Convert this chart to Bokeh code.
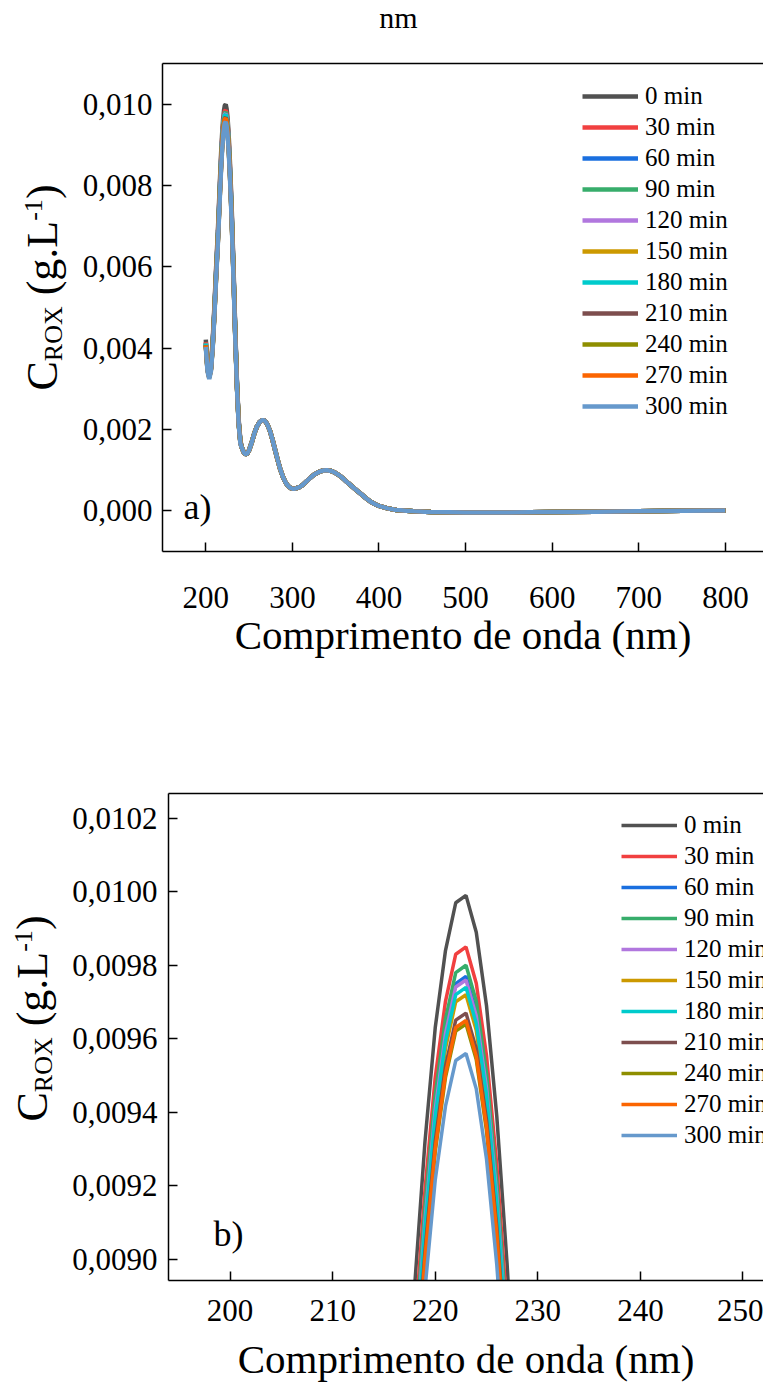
from math import pi
from bokeh.plotting import figure
from bokeh.models import (ColumnDataSource, Range1d, FixedTicker, LinearAxis,
                          Label, Legend, LegendItem)
from bokeh.layouts import column, row
from bokeh.embed import file_html
from bokeh.resources import INLINE

FONT = "Liberation Serif"

# ---------------- data (concentration, stored in units of 1e-5 g/L) ----------------
SERIES = ["0 min", "30 min", "60 min", "90 min", "120 min", "150 min",
          "180 min", "210 min", "240 min", "270 min", "300 min"]
COLORS = ["#515151", "#F14040", "#1A6FDF", "#37AD6B", "#B177DE", "#CC9900",
          "#00CBCC", "#7D4E4E", "#8E8E00", "#FB6501", "#6699CC"]

WL_HEAD = [200, 202, 204, 206, 208, 210, 212, 214, 216, 217, 218, 219, 220, 221,
           222, 223, 224, 225, 226, 227, 228, 229, 230, 232, 234, 236, 238, 240]
WL_TAIL = [242, 244, 246, 248, 250, 253, 256, 259, 262, 265, 268, 271, 274, 277, 280,
           283, 286, 289, 292, 295, 298, 301, 304, 308, 312, 316, 320, 325, 330, 335,
           340, 345, 350, 355, 360, 365, 370, 375, 380, 385, 390, 395, 400, 410, 420,
           440, 460, 500, 550, 600, 650, 700, 750, 800]
# common tail (all series coincide beyond 240 nm)
TAIL = [153, 143, 139, 141, 149, 168, 190, 207, 218, 223, 222, 213, 197, 175, 150,
        125, 102, 84, 70, 61, 56, 54, 55, 58, 64, 72, 80, 89, 95, 99,
        100, 98, 93, 86, 77, 67, 58, 49, 40, 31, 23, 17, 12, 6, 2,
        -1, -3, -4, -4, -3, -2, -1, 0, 1]

S0 = [421, 358, 339, 360, 420, 505, 602, 690, 795, 847, 893, 932, 963, 984, 997, 999, 989, 969, 939, 899, 851, 796, 737, 598, 447, 315, 222, 172]
S30 = [415.1, 353.0, 334.3, 355.0, 414.1, 497.9, 593.6, 680.3, 783.9, 835.1, 880.5, 918.9, 949.5, 970.2, 983.0, 985.0, 975.1, 955.4, 925.8, 886.4, 839.1, 784.8, 726.7, 589.6, 440.7, 310.6, 218.9, 169.6]
S60 = [411.7, 350.1, 331.5, 352.1, 410.8, 493.9, 588.7, 674.8, 777.5, 828.4, 873.3, 911.5, 941.8, 962.3, 975.0, 977.0, 967.2, 947.7, 918.3, 879.2, 832.3, 778.5, 720.8, 584.8, 437.2, 308.1, 217.1, 168.2]
S90 = [413.0, 351.2, 332.6, 353.2, 412.0, 495.4, 590.6, 676.9, 779.9, 830.9, 876.0, 914.3, 944.7, 965.3, 978.0, 980.0, 970.2, 950.6, 921.1, 881.9, 834.8, 780.9, 723.0, 586.6, 438.5, 309.0, 217.8, 168.7]
S120 = [411.3, 349.8, 331.2, 351.7, 410.3, 493.4, 588.1, 674.1, 776.7, 827.5, 872.4, 910.5, 940.8, 961.4, 974.1, 976.0, 966.2, 946.7, 917.4, 878.3, 831.4, 777.7, 720.0, 584.2, 436.7, 307.8, 216.9, 168.0]
S150 = [409.6, 348.3, 329.8, 350.3, 408.6, 491.3, 585.7, 671.3, 773.5, 824.1, 868.9, 906.8, 937.0, 957.4, 970.1, 972.0, 962.3, 942.8, 913.6, 874.7, 828.0, 774.5, 717.1, 581.8, 434.9, 306.5, 216.0, 167.4]
S180 = [410.5, 349.0, 330.5, 351.0, 409.5, 492.4, 586.9, 672.7, 775.1, 825.8, 870.6, 908.7, 938.9, 959.4, 972.0, 974.0, 964.2, 944.7, 915.5, 876.5, 829.7, 776.1, 718.6, 583.0, 435.8, 307.1, 216.4, 167.7]
S210 = [407.5, 346.5, 328.1, 348.5, 406.5, 488.8, 582.7, 667.9, 769.5, 819.9, 864.4, 902.2, 932.2, 952.5, 965.1, 967.0, 957.3, 938.0, 908.9, 870.2, 823.7, 770.5, 713.4, 578.8, 432.7, 304.9, 214.9, 166.5]
S240 = [406.3, 345.5, 327.1, 347.4, 405.3, 487.3, 580.9, 665.8, 767.1, 817.3, 861.7, 899.3, 929.3, 949.5, 962.1, 964.0, 954.4, 935.0, 906.1, 867.5, 821.2, 768.1, 711.2, 577.0, 431.3, 304.0, 214.2, 166.0]
S270 = [406.7, 345.8, 327.5, 347.8, 405.7, 487.8, 581.5, 666.5, 768.0, 818.2, 862.6, 900.3, 930.2, 950.5, 963.1, 965.0, 955.3, 936.0, 907.0, 868.4, 822.0, 768.9, 711.9, 577.7, 431.8, 304.3, 214.5, 166.2]
S300 = [402.9, 342.6, 324.4, 344.5, 401.9, 483.3, 576.1, 660.3, 760.8, 810.5, 854.6, 891.9, 921.6, 941.7, 954.1, 956.0, 946.4, 927.3, 898.6, 860.3, 814.4, 761.7, 705.3, 572.3, 427.8, 301.4, 212.5, 164.6]
HEADS = [S0, S30, S60, S90, S120, S150, S180, S210, S240, S270, S300]

X_TICKS_A = [200, 300, 400, 500, 600, 700, 800]
X_LABELS_A = ["200", "300", "400", "500", "600", "700", "800"]
Y_TICKS_A = [0.0, 0.002, 0.004, 0.006, 0.008, 0.010]
Y_LABELS_A = ["0,000", "0,002", "0,004", "0,006", "0,008", "0,010"]
X_TICKS_B = [200, 210, 220, 230, 240, 250]
X_LABELS_B = ["200", "210", "220", "230", "240", "250"]
Y_TICKS_B = [0.0090, 0.0092, 0.0094, 0.0096, 0.0098, 0.0100, 0.0102]
Y_LABELS_B = ["0,0090", "0,0092", "0,0094", "0,0096", "0,0098", "0,0100", "0,0102"]

X_TITLE = "Comprimento de onda (nm)"
UNIT = 1e-5  # stored values are in 1e-5 g/L
MID = 0.3375  # em-box middle above the baseline (Liberation Serif)


def style_axis(ax, standoff):
    ax.axis_line_color = "black"
    ax.axis_line_width = 1.5
    ax.major_tick_line_color = "black"
    ax.major_tick_line_width = 1.5
    ax.major_tick_in = 9
    ax.major_tick_out = 0
    ax.minor_tick_line_color = None
    ax.major_label_text_font = FONT
    ax.major_label_text_font_size = "31px"
    ax.major_label_text_color = "black"
    ax.major_label_standoff = standoff


def txt(p, x, y, text, size, angle=0.0, align="left"):
    p.add_layout(Label(x=x, y=y, x_units="screen", y_units="screen", text=text,
                       text_font=FONT, text_font_size=f"{size}px", text_color="black",
                       angle=angle, text_align=align, text_baseline="middle"))


def text_fig(w, h):
    f = figure(width=w, height=h, x_range=Range1d(0, 1), y_range=Range1d(0, 1),
               x_axis_type=None, y_axis_type=None, output_backend="svg",
               toolbar_location=None, min_border_left=0, min_border_right=0,
               min_border_top=0, min_border_bottom=0)
    f.outline_line_color = None
    f.background_fill_color = "white"
    f.border_fill_color = "white"
    return f


def ylabel_fig(h, bx, by):
    # rotated "C_ROX (g.L^-1)" built from pieces; bx = main baseline x, by = start (bottom)
    f = text_fig(68, h)
    pieces = [("C", 44, 0, 0.0), ("ROX", 26, 5, 29.3), ("(g.L", 44, 0, 95.2),
              ("-1", 26, -15, 169.7), (")", 44, 0, 191.4)]
    for text, size, shift, along in pieces:
        txt(f, bx + shift - MID * size, by + along, text, size, pi / 2)
    return f


def make_panel(height, xr, yr, mb, xt, xl, yt, yl, lw, leg_loc, xstand, ystand, tstand):
    p = figure(width=695, height=height, x_range=Range1d(*xr), y_range=Range1d(*yr),
               x_axis_type=None, y_axis_type=None, output_backend="svg",
               toolbar_location=None, min_border_left=mb[0], min_border_right=0,
               min_border_top=mb[1], min_border_bottom=mb[2])
    p.outline_line_color = None
    p.background_fill_color = "white"
    p.border_fill_color = "white"

    xa = LinearAxis(ticker=FixedTicker(ticks=xt),
                    major_label_overrides=dict(zip([float(t) for t in xt], xl)))
    style_axis(xa, xstand)
    xa.axis_label = X_TITLE
    xa.axis_label_text_font = FONT
    xa.axis_label_text_font_size = "41px"
    xa.axis_label_text_font_style = "normal"
    xa.axis_label_text_color = "black"
    xa.axis_label_standoff = tstand
    p.add_layout(xa, "below")
    ya = LinearAxis(ticker=FixedTicker(ticks=yt),
                    major_label_overrides=dict(zip(yt, yl)))
    style_axis(ya, ystand)
    p.add_layout(ya, "left")
    top = LinearAxis(ticker=FixedTicker(ticks=[]), major_label_text_font_size="0px",
                     major_tick_line_color=None, minor_tick_line_color=None,
                     major_tick_out=0, major_tick_in=0, major_label_standoff=0,
                     axis_line_color="black", axis_line_width=1.5)
    p.add_layout(top, "above")

    items = []
    for name, col, head in zip(SERIES, COLORS, HEADS):
        src = ColumnDataSource(dict(x=WL_HEAD + WL_TAIL,
                                    y=[v * UNIT for v in head + TAIL]))
        r = p.line("x", "y", source=src, line_color=col, line_width=lw)
        items.append(LegendItem(label=name, renderers=[r]))
    leg = Legend(items=items, location=leg_loc, orientation="vertical",
                 border_line_color=None, background_fill_alpha=0, padding=0, margin=0,
                 spacing=3, glyph_width=56, glyph_height=28, label_height=28,
                 label_standoff=7, label_text_font=FONT, label_text_font_size="25px",
                 label_text_color="black")
    p.add_layout(leg)
    return p


# ---------------- top caption ----------------
cap = text_fig(763, 45)
txt(cap, 398, 28, "nm", 30, align="center")

# ---------------- panel a (frame: x 162-763, y 63-551) ----------------
pa = make_panel(635, (150, 844), (-0.001, 0.011), (94, 18, 129),
                X_TICKS_A, X_LABELS_A, Y_TICKS_A, Y_LABELS_A, 4.5, (420, 131), 35, 10, 1)
txt(pa, 21, 45, "a)", 36)
la = ylabel_fig(635, 57, 161)

# ---------------- panel b (frame: x 168-763, y 793-1280) ----------------
pb = make_panel(705, (194, 252), (0.008943, 0.010267), (100, 113, 105),
                X_TICKS_B, X_LABELS_B, Y_TICKS_B, Y_LABELS_B, 3.5, (453, 131), 19, 11, 12)
txt(pb, 45, 47, "b)", 36)
lb = ylabel_fig(705, 47, 159)

layout = column(cap, row(la, pa, spacing=0), row(lb, pb, spacing=0), spacing=0)
open("out.html", "w").write(file_html(layout, INLINE))
